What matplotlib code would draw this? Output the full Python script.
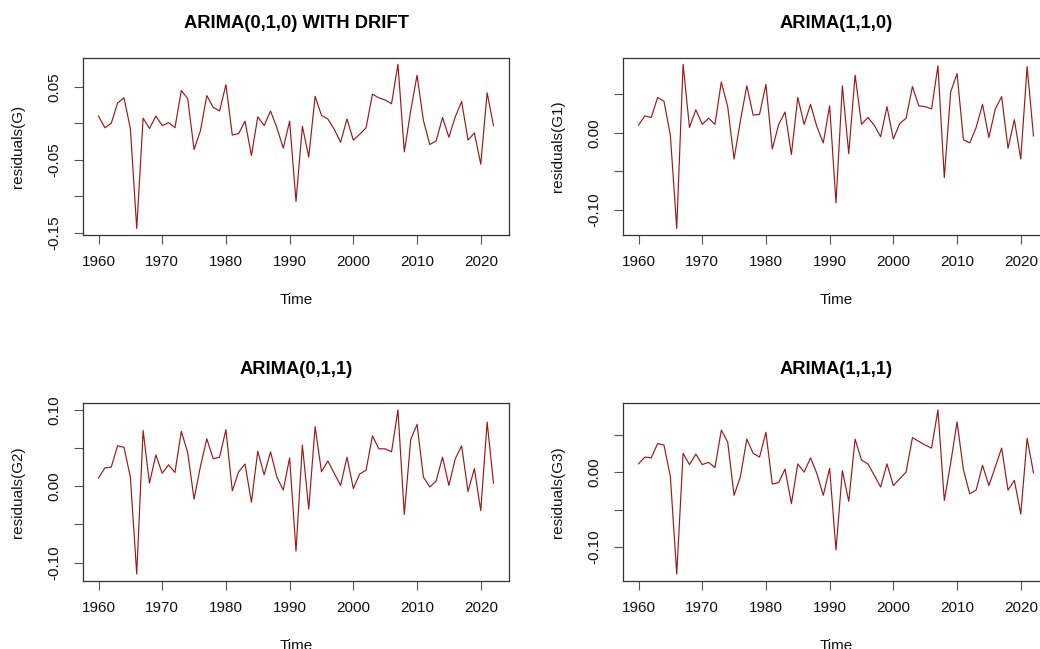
import matplotlib
matplotlib.use("Agg")
import matplotlib.pyplot as plt
import numpy as np

plt.rcParams['font.family'] = ['Liberation Sans', 'DejaVu Sans']

years = list(range(1960, 2023))

res_G = [0.010, -0.006, 0.000, 0.028, 0.035, -0.007, -0.144, 0.007, -0.007, 0.010,
         -0.003, 0.001, -0.006, 0.045, 0.034, -0.036, -0.010, 0.038, 0.022, 0.017,
         0.053, -0.016, -0.014, 0.003, -0.044, 0.009, -0.003, 0.017, -0.006, -0.034,
         0.003, -0.107, -0.004, -0.046, 0.037, 0.011, 0.006, -0.008, -0.026, 0.006,
         -0.023, -0.015, -0.006, 0.040, 0.035, 0.032, 0.027, 0.081, -0.039, 0.017,
         0.066, 0.004, -0.029, -0.024, 0.008, -0.019, 0.009, 0.030, -0.023, -0.013,
         -0.056, 0.042, -0.003]

res_G1 = [0.010, 0.022, 0.020, 0.046, 0.041, -0.003, -0.124, 0.089, 0.007, 0.030,
          0.011, 0.019, 0.011, 0.066, 0.034, -0.034, 0.016, 0.061, 0.023, 0.024,
          0.063, -0.021, 0.011, 0.027, -0.028, 0.046, 0.011, 0.037, 0.008, -0.013,
          0.035, -0.091, 0.061, -0.027, 0.075, 0.011, 0.020, 0.010, -0.005, 0.034,
          -0.008, 0.012, 0.019, 0.060, 0.035, 0.034, 0.031, 0.087, -0.058, 0.053,
          0.077, -0.009, -0.013, 0.007, 0.037, -0.006, 0.031, 0.047, -0.020, 0.017,
          -0.034, 0.086, -0.004]

res_G2 = [0.011, 0.024, 0.025, 0.053, 0.051, 0.012, -0.115, 0.073, 0.004, 0.041,
          0.017, 0.028, 0.018, 0.072, 0.044, -0.017, 0.026, 0.062, 0.036, 0.038,
          0.074, -0.006, 0.019, 0.029, -0.021, 0.046, 0.015, 0.045, 0.012, -0.005,
          0.037, -0.085, 0.054, -0.030, 0.078, 0.019, 0.033, 0.017, 0.001, 0.038,
          -0.003, 0.016, 0.021, 0.066, 0.049, 0.049, 0.045, 0.100, -0.037, 0.061,
          0.081, 0.012, -0.001, 0.007, 0.038, 0.001, 0.036, 0.053, -0.007, 0.023,
          -0.032, 0.084, 0.004]

res_G3 = [0.011, 0.020, 0.019, 0.038, 0.036, -0.006, -0.136, 0.025, 0.010, 0.024,
          0.010, 0.013, 0.006, 0.056, 0.040, -0.031, -0.006, 0.044, 0.025, 0.020,
          0.053, -0.016, -0.014, 0.004, -0.042, 0.011, 0.000, 0.019, -0.002, -0.031,
          0.005, -0.104, 0.002, -0.039, 0.044, 0.016, 0.011, -0.004, -0.020, 0.011,
          -0.018, -0.009, 0.000, 0.046, 0.041, 0.036, 0.032, 0.083, -0.038, 0.012,
          0.067, 0.003, -0.029, -0.024, 0.009, -0.018, 0.007, 0.032, -0.024, -0.011,
          -0.056, 0.045, -0.001]

titles = ["ARIMA(0,1,0) WITH DRIFT", "ARIMA(1,1,0)", "ARIMA(0,1,1)", "ARIMA(1,1,1)"]
ylabels = ["residuals(G)", "residuals(G1)", "residuals(G2)", "residuals(G3)"]
series = [res_G, res_G1, res_G2, res_G3]
yticks = [[0.05, 0.00, -0.05, -0.10, -0.15],
          [0.05, 0.00, -0.05, -0.10],
          [0.10, 0.05, 0.00, -0.05, -0.10],
          [0.05, 0.00, -0.05, -0.10]]
yticklabels = [["0.05", "", "-0.05", "", "-0.15"],
               ["", "0.00", "", "-0.10"],
               ["0.10", "", "0.00", "", "-0.10"],
               ["", "0.00", "", "-0.10"]]
xticks = [1960, 1970, 1980, 1990, 2000, 2010, 2020]

W, H = 1040, 649
fig = plt.figure(figsize=(W / 100, H / 100), dpi=100)

aw, ah = 426.6, 177.3
lefts = [82.7, 622.7, 82.7, 622.7]
tops = [57.7, 57.7, 403.3, 403.3]

line_color = '#9A1A1A'
frame_color = '#333333'

for i in range(4):
    ax = fig.add_axes([lefts[i] / W, 1 - (tops[i] + ah) / H, aw / W, ah / H])
    ax.plot(years, series[i], color=line_color, lw=0.85)
    ax.margins(x=0.04, y=0.04)
    for sp in ax.spines.values():
        sp.set_color(frame_color)
        sp.set_linewidth(0.9)
    ax.set_xticks(xticks)
    ax.set_xticklabels([str(t) for t in xticks])
    ax.set_yticks(yticks[i])
    ax.set_yticklabels(yticklabels[i], rotation=90, va='center')
    ax.tick_params(axis='both', length=6.5, width=0.8, color='#555555',
                   labelsize=11, labelcolor='#111111')
    ax.tick_params(axis='x', pad=8)
    ax.tick_params(axis='y', pad=9)
    ax.set_xlabel("Time", fontsize=11, color='#111111', va='center')
    ax.xaxis.set_label_coords(0.5, -65 / ah)
    ax.set_ylabel(ylabels[i], fontsize=11, color='#111111', va='center')
    ax.yaxis.set_label_coords(-64.7 / aw, 0.5)
    ax.text(0.5, 1 + 29.4 / ah, titles[i], transform=ax.transAxes,
            ha='center', va='baseline', fontsize=13.2, fontweight='bold',
            color='#000000')

fig.savefig("out.png", dpi=100)
